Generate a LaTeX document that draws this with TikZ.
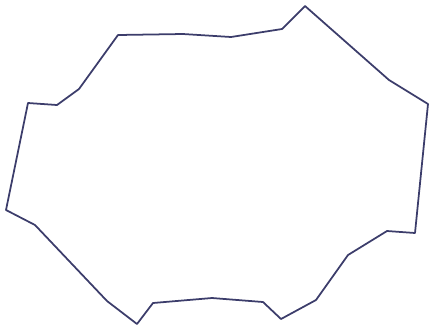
\documentclass[tikz,border=0pt]{standalone}
\usepackage{xcolor}
\usepackage{tikz}
\usetikzlibrary{calc}
\definecolor{ink}{HTML}{3C3D6B}
\tikzset{
  outline/.style ={draw=ink, line width=1pt, line join=round, line cap=round}
}
\begin{document}
\begin{tikzpicture}[x=0.02cm, y=-0.02cm]

  \useasboundingbox (0,0) rectangle (429,326);

  % outline, clockwise from the upper left
  \draw[outline] (118,35) -- (183,34) -- (231,37) -- (282,29) -- (305,6)
    -- (389,80) -- (428,104) -- (415,233) -- (387,231) -- (348,255)
    -- (316,300) -- (281,319) -- (263,302) -- (212,298) -- (153,303)
    -- (137,324) -- (107,301) -- (35,225) -- (6,210) -- (28,103)
    -- (57,105) -- (79,89) -- cycle;

\end{tikzpicture}
\end{document}
